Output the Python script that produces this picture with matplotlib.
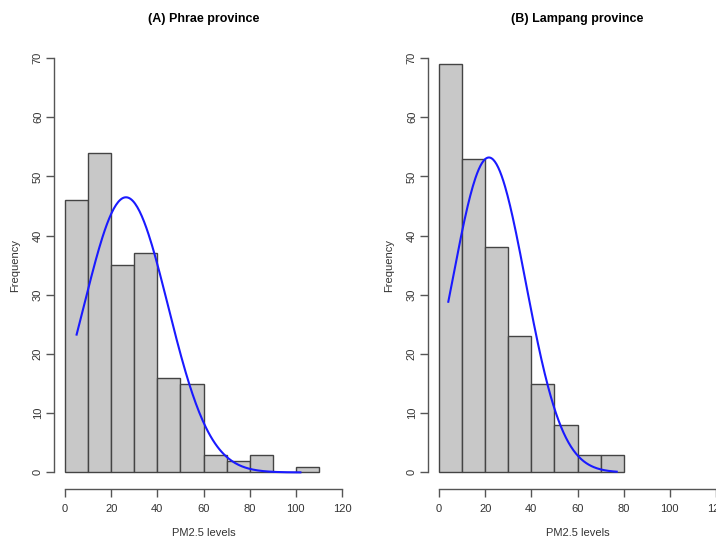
import numpy as np
import matplotlib
matplotlib.use("Agg")
import matplotlib.pyplot as plt

plt.rcParams["font.family"] = ["Liberation Sans", "DejaVu Sans"]

# ===== data =====
bin_edges = [0, 10, 20, 30, 40, 50, 60, 70, 80, 90, 100, 110]
phrae_counts = [46, 54, 35, 37, 16, 15, 3, 2, 3, 0, 1]
lampang_counts = [69, 53, 38, 23, 15, 8, 3, 3]

# fitted normal curve: mean, sd, x-range
phrae_fit = dict(mean=26.4, sd=18.2, lo=5, hi=102)
lampang_fit = dict(mean=21.6, sd=15.9, lo=4, hi=77)

titles = ["(A) Phrae province", "(B) Lampang province"]
x_ticks = [0, 20, 40, 60, 80, 100, 120]
y_ticks = [0, 10, 20, 30, 40, 50, 60, 70]

W, H = 716, 538
fig = plt.figure(figsize=(W / 100, H / 100), dpi=100)

axc = "#555555"


def draw(left, counts, fit, title):
    ax = fig.add_axes([left / W, (H - 489) / H, 299 / W, 447.6 / H])
    edges = bin_edges[:len(counts) + 1]
    ax.hist(edges[:-1], bins=edges, weights=counts,
            color="#c8c8c8", edgecolor="#444444", linewidth=1.0)
    n = sum(counts)
    bw = edges[1] - edges[0]
    xs = np.linspace(fit["lo"], fit["hi"], 200)
    ys = n * bw / (fit["sd"] * np.sqrt(2 * np.pi)) * np.exp(-0.5 * ((xs - fit["mean"]) / fit["sd"]) ** 2)
    ax.plot(xs, ys, color="#1a1aff", lw=1.5)

    ax.set_xlim(-4.8, 124.8)
    ax.set_ylim(-2.8, 72.8)
    for s in ["top", "right"]:
        ax.spines[s].set_visible(False)
    ax.spines["left"].set_bounds(0, 70)
    ax.spines["bottom"].set_bounds(0, 120)
    for s in ["left", "bottom"]:
        ax.spines[s].set_color(axc)
        ax.spines[s].set_linewidth(1.0)
    ax.set_xticks(x_ticks)
    ax.set_yticks(y_ticks)
    ax.set_yticklabels([str(v) for v in y_ticks], rotation=90, va="center")
    ax.tick_params(direction="out", length=6, width=1.0, color=axc,
                   labelsize=8, labelcolor="#333333")
    ax.tick_params(axis="x", pad=5)
    ax.tick_params(axis="y", pad=2)
    ax.patch.set_visible(False)
    ax.set_title(title, fontsize=9, fontweight="bold", pad=14)
    ax.set_xlabel("PM2.5 levels", fontsize=8, color="#333333", labelpad=10)
    ax.set_ylabel("Frequency", fontsize=8, color="#333333", labelpad=9)
    return ax


draw(54, phrae_counts, phrae_fit, titles[0])
draw(428, lampang_counts, lampang_fit, titles[1])

fig.savefig("out.png", dpi=100)
